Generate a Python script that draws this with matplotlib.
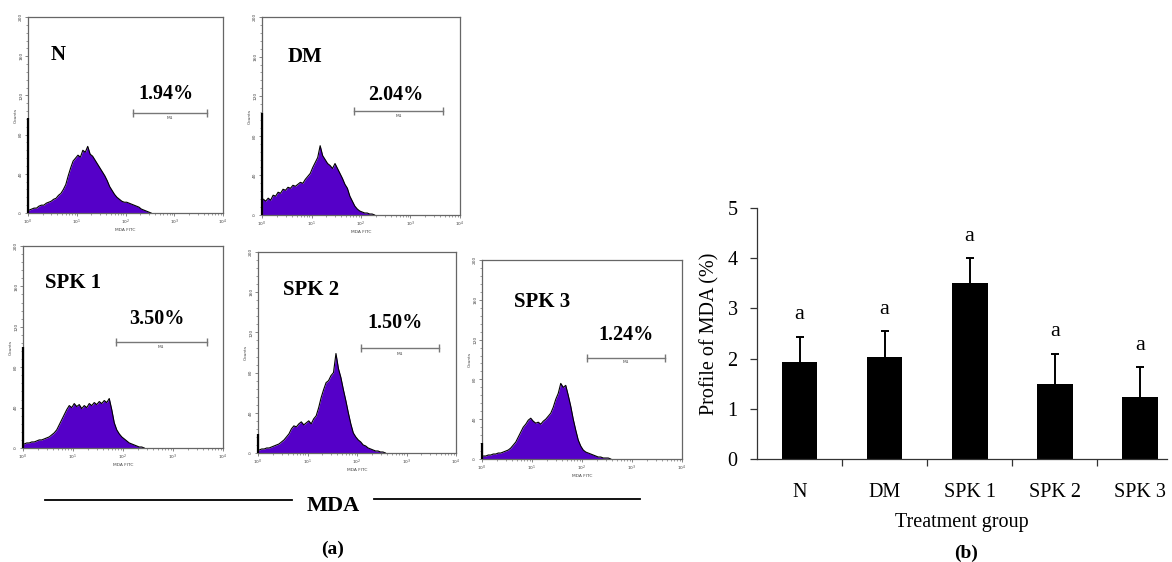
import numpy as np
import matplotlib.pyplot as plt
from matplotlib.lines import Line2D
from matplotlib.ticker import FixedLocator, MultipleLocator, LogLocator, NullFormatter

plt.rcParams['font.family'] = ['Liberation Serif', 'DejaVu Serif']

# summary of MDA positive cells per group
groups = ['N', 'DM', 'SPK 1', 'SPK 2', 'SPK 3']
mda_mean = [1.94, 2.04, 3.50, 1.50, 1.24]
mda_err = [0.50, 0.50, 0.50, 0.60, 0.60]
letters = ['a', 'a', 'a', 'a', 'a']

# flow histograms: counts per channel bin (0.05 decade wide, starting at 10^0)
first_channel = [97, 103, 100, 19, 16]
counts_n = [3, 4, 5, 5, 7, 8, 8, 10, 11, 12, 14, 15, 18, 20, 24, 29, 38, 46, 53, 56,
            59, 57, 64, 62, 68, 60, 58, 54, 50, 46, 42, 38, 33, 27, 23, 19, 16, 14, 12, 11,
            11, 10, 9, 8, 7, 6, 4, 3, 2, 1, 0]
counts_dm = [16, 14, 17, 15, 20, 19, 23, 22, 26, 25, 28, 27, 30, 29, 31, 33, 32, 36, 39, 42,
             48, 53, 58, 70, 60, 56, 52, 50, 47, 52, 47, 42, 37, 31, 27, 19, 14, 9, 6, 4,
             3, 2, 2, 1, 1, 0]
counts_spk1 = [4, 5, 5, 6, 6, 7, 8, 8, 9, 10, 11, 13, 15, 18, 23, 28, 33, 38, 42, 40,
               44, 41, 43, 39, 42, 40, 44, 42, 45, 43, 46, 44, 47, 45, 49, 38, 25, 18, 14, 11,
               9, 7, 5, 4, 3, 2, 1, 1, 0]
counts_spk2 = [3, 4, 4, 5, 5, 6, 7, 8, 9, 11, 13, 16, 19, 24, 27, 26, 29, 31, 28, 30,
               32, 29, 34, 37, 45, 55, 63, 70, 72, 77, 80, 99, 84, 75, 63, 52, 40, 29, 20, 16,
               13, 11, 8, 7, 5, 4, 3, 2, 2, 1, 1, 0]
counts_spk3 = [3, 3, 4, 4, 5, 5, 6, 6, 7, 8, 9, 11, 14, 17, 22, 27, 32, 35, 39, 41,
               38, 36, 37, 35, 38, 40, 43, 46, 52, 60, 66, 76, 72, 74, 64, 53, 40, 29, 19, 13,
               9, 7, 6, 5, 4, 3, 2, 2, 1, 1, 1, 0]
hist_counts = [counts_n, counts_dm, counts_spk1, counts_spk2, counts_spk3]
BIN = 0.05

W, H = 1172, 562


def box(l, r, t, b):
    return [l / W, 1 - b / H, (r - l) / W, (b - t) / H]


# panel placement and annotation spots (decade, count)
panels = [
    dict(rect=box(28, 223, 17, 213), name=(0.62, 161), pct=(2.83, 121), gate=(2.15, 3.68, 102)),
    dict(rect=box(262, 460, 17, 215), name=(0.86, 160), pct=(2.70, 121), gate=(1.86, 3.66, 105)),
    dict(rect=box(23, 223, 246, 448), name=(1.00, 163), pct=(2.68, 128), gate=(1.86, 3.67, 105)),
    dict(rect=box(258, 456, 252, 453), name=(1.07, 162), pct=(2.77, 129), gate=(2.09, 3.66, 104)),
    dict(rect=box(482, 682, 260, 459), name=(1.21, 158), pct=(2.87, 125), gate=(2.09, 3.65, 102)),
]

fig = plt.figure(figsize=(W / 100, H / 100), dpi=100)

tiny = dict(family='DejaVu Sans', fontsize=3.2, color='#444444')
for i, p in enumerate(panels):
    ax = fig.add_axes(p['rect'])
    vals = np.array(hist_counts[i], dtype=float)
    centers = 10 ** (BIN * (np.arange(len(vals)) + 0.5))
    xs = np.concatenate([[1.0], centers])
    ys = np.concatenate([[vals[0]], vals])
    ax.fill_between(xs, 0, ys, color='#5500c8', lw=0)
    ax.plot(xs, ys, color='black', lw=0.8)
    ax.vlines(1.0, 0, first_channel[i], color='black', lw=1.6, clip_on=False, zorder=5)
    ax.set_xscale('log')
    ax.set_xlim(1, 1e4)
    ax.set_ylim(0, 200)
    for s in ax.spines.values():
        s.set_color('#666666')
        s.set_linewidth(0.9)
    ax.yaxis.set_major_locator(FixedLocator([0, 40, 80, 120, 160, 200]))
    ax.yaxis.set_minor_locator(MultipleLocator(8))
    ax.xaxis.set_major_locator(LogLocator(base=10, numticks=10))
    ax.xaxis.set_minor_locator(LogLocator(base=10, subs=np.arange(2, 10), numticks=10))
    ax.xaxis.set_minor_formatter(NullFormatter())
    ax.tick_params(which='major', length=2.5, width=0.5, color='#555555', pad=1,
                   labelsize=3.2, labelcolor='#444444')
    ax.tick_params(which='minor', length=1.2, width=0.4, color='#555555')
    for lab in ax.get_yticklabels():
        lab.set_rotation(90)
        lab.set_va('center')
        lab.set_family('DejaVu Sans')
    for lab in ax.get_xticklabels():
        lab.set_family('DejaVu Sans')
    ax.set_xlabel('MDA FITC', labelpad=0.5, **tiny)
    ax.set_ylabel('Counts', labelpad=1, **tiny)

    nx, ny = p['name']
    ax.text(10 ** nx, ny, groups[i], ha='center', va='center', fontsize=15, fontweight='bold')
    px, py = p['pct']
    ax.text(10 ** px, py, f'{mda_mean[i]:.2f}%', ha='center', va='center',
            fontsize=14.5, fontweight='bold')
    g0, g1, gy = p['gate']
    ax.plot([10 ** g0, 10 ** g1], [gy, gy], color='#777777', lw=1)
    ax.plot([10 ** g0, 10 ** g1], [gy, gy], ls='none', marker='|', ms=6, mew=1, color='#777777')
    ax.text(10 ** ((g0 + g1) / 2), gy - 5, 'M1', ha='center', va='center', **tiny)

# panel (a) caption
fig.add_artist(Line2D([45 / W, 292 / W], [1 - 500 / H] * 2, color='black', lw=1.3))
fig.add_artist(Line2D([374 / W, 640 / W], [1 - 499 / H] * 2, color='black', lw=1.3))
fig.text(333 / W, 1 - 506 / H, 'MDA', ha='center', va='center', fontsize=16, fontweight='bold')
fig.text(333 / W, 1 - 549 / H, '(a)', ha='center', va='center', fontsize=14, fontweight='bold')

# bar chart (b)
bx = fig.add_axes(box(757, 1167, 208, 459))
x = np.arange(len(groups))
bx.bar(x, mda_mean, width=0.42, color='black', zorder=2)
tops = np.array(mda_mean) + np.array(mda_err)
bx.vlines(x, mda_mean, tops, color='black', lw=1.4, zorder=1)
bx.plot(x, tops, ls='none', marker='_', ms=6, mew=1.4, color='black')
for xi, t_y, t in zip(x, tops, letters):
    bx.text(xi, t_y + 0.43, t, ha='center', va='center', fontsize=16)
bx.set_xlim(-0.5, 4.32)
bx.set_ylim(0, 5)
bx.spines['top'].set_visible(False)
bx.spines['right'].set_visible(False)
for s in ('left', 'bottom'):
    bx.spines[s].set_linewidth(0.9)
    bx.spines[s].set_color('#333333')
bx.set_yticks([0, 1, 2, 3, 4, 5])
bx.set_xticks(x)
bx.set_xticklabels(groups)
bx.xaxis.set_minor_locator(FixedLocator([0.5, 1.5, 2.5, 3.5]))
bx.tick_params(axis='x', which='major', length=0, pad=17, labelsize=14.5)
bx.tick_params(axis='x', which='minor', length=5, width=0.9, color='#333333')
bx.tick_params(axis='y', length=5, width=0.9, color='#333333', labelsize=14.5, pad=9)
bx.set_ylabel('Profile of MDA (%)', fontsize=14.5, labelpad=6)
bx.set_xlabel('Treatment group', fontsize=14.5, labelpad=8)
fig.text(966 / W, 1 - 553 / H, '(b)', ha='center', va='center', fontsize=14, fontweight='bold')

fig.savefig('out.png', dpi=100)
